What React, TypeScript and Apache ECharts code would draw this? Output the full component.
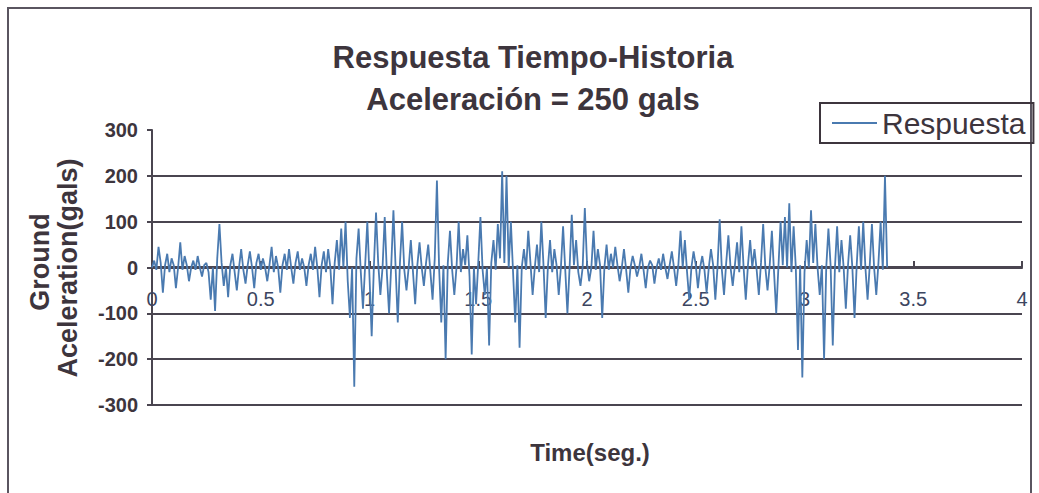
import React, { useEffect, useRef } from "react";
import * as echarts from "echarts";

const titleLines = ["Respuesta Tiempo-Historia", "Aceleración = 250 gals"];
const seriesName = "Respuesta";
const yTitleLines = ["Ground", "Aceleration(gals)"];
const xTitle = "Time(seg.)";
const timeStep = 0.01; // s between samples

// Ground acceleration response (gals), one row per 0.1 s
const respuesta: number[] = [
  0, 15, -5, 45, 10, -55, 5, 30, -10, 20,
  5, -45, 0, 55, -5, 25, 5, -30, 0, 15,
  -5, 25, 0, -20, 5, 10, -10, -70, 0, -95,
  20, 95, 10, -40, 0, -65, 5, 30, -10, -50,
  0, 40, -5, -35, 5, 35, 0, -45, 10, 30,
  -5, 20, 0, -30, 5, 45, -10, 25, 0, -55,
  5, 30, -5, 40, 0, -35, 10, 35, -5, 20,
  0, -40, 5, 30, -5, 45, 0, -65, 5, 35,
  -10, 40, 0, -80, 10, 60, -5, 85, 0, 100,
  -30, -110, 0, -260, 20, 85, -10, -90, 5, 100,
  -20, -150, 0, 120, 10, -60, 0, 110, -15, -100,
  5, 125, 0, -120, 10, 100, -5, -50, 0, 60,
  -10, -80, 5, 55, 0, -40, 10, 50, -10, -70,
  20, 190, 0, -120, 5, -200, 10, 80, -5, -60,
  0, 100, -10, 40, 5, 70, -20, -190, 0, -80,
  10, 110, -5, -60, 0, -170, 10, 60, -5, 95,
  20, 210, 10, 200, 0, 100, -10, -120, 5, -175,
  0, 40, -5, 80, 10, -60, 0, 50, -10, 100,
  5, -110, 0, 60, -10, 40, 5, -60, 0, 90,
  -5, -100, 0, 115, 5, 60, -10, -40, 0, 130,
  10, -30, 0, 80, -5, 40, 5, -110, 0, 50,
  -5, 30, 0, 45, 5, -30, 0, 40, -5, -55,
  0, 25, 5, -20, 0, 30, -5, -45, 0, 15,
  5, -35, 0, 20, -5, 30, 0, -25, 5, 35,
  0, -40, 5, 80, 0, 60, -10, -70, 0, 35,
  5, -45, 0, 25, -5, -55, 0, 40, 5, -70,
  0, 105, -5, -60, 10, 70, 0, -40, 5, 55,
  -10, 90, 0, -70, 5, 60, 0, 40, -5, -60,
  10, 95, 0, -50, 5, 80, -10, -100, 0, 100,
  5, 110, 0, 140, -10, 90, 0, -180, 5, -240,
  -10, 60, 0, 125, 10, 95, 0, -60, 5, -200,
  0, 85, 5, -170, 0, 90, -10, 60, 0, -90,
  5, 70, 0, -110, 5, 90, -5, 100, 0, -70,
  5, 95, 0, -60, 10, 100, -5, 200, 0,
];

const FONT = "'Liberation Sans', Arial, sans-serif";
const TEXT = "#3d353d";
const GRID = "#4a4550";
const LINE = "#4a7ab0";

export default function App() {
  const ref = useRef<HTMLDivElement>(null);
  useEffect(() => {
    if (!ref.current) return;
    const chart = echarts.init(ref.current, undefined, { renderer: "svg" });
    const data = respuesta.map((v, i) => [+(i * timeStep).toFixed(2), v]);
    chart.setOption({
      animation: false,
      backgroundColor: "#ffffff",
      title: {
        text: titleLines.join("\n"),
        left: 528,
        top: 31,
        textAlign: "center",
        textStyle: {
          fontFamily: FONT,
          fontSize: 31,
          fontWeight: "bold",
          lineHeight: 42,
          color: TEXT,
        },
      },
      legend: {
        left: 820,
        top: 103,
        borderColor: TEXT,
        borderWidth: 2,
        padding: [5, 8, 5, 12],
        itemWidth: 45,
        itemHeight: 2,
        itemGap: 8,
        icon: "rect",
        textStyle: { fontFamily: FONT, fontSize: 30, color: TEXT },
        data: [seriesName],
      },
      grid: [
        { left: 152, right: 17, top: 130, bottom: 88 },
        { left: 152, right: 17, top: 130, bottom: 226 },
      ],
      xAxis: [
        {
          type: "value",
          gridIndex: 0,
          min: 0,
          max: 4,
          interval: 0.5,
          axisLine: { onZero: true, lineStyle: { color: GRID, width: 2 } },
          axisTick: { show: false },
          axisLabel: { show: false },
          splitLine: { show: false },
        },
        {
          type: "value",
          gridIndex: 1,
          min: 0,
          max: 4,
          interval: 0.5,
          axisLine: { show: true, onZero: false, lineStyle: { color: GRID, width: 2 } },
          axisTick: { show: true, inside: true, length: 6, lineStyle: { color: GRID, width: 2 } },
          axisLabel: {
            fontFamily: FONT,
            fontSize: 20,
            color: "#3c4560",
            margin: 22,
          },
          splitLine: { show: false },
        },
      ],
      yAxis: [
        {
          type: "value",
          gridIndex: 0,
          min: -300,
          max: 300,
          interval: 100,
          axisLine: { show: true, lineStyle: { color: GRID, width: 2 } },
          axisTick: { show: true, length: 5, lineStyle: { color: GRID, width: 2 } },
          axisLabel: {
            fontFamily: FONT,
            fontSize: 20,
            fontWeight: "bold",
            color: TEXT,
            margin: 14,
          },
          splitLine: {
            show: true,
            lineStyle: {
              color: [GRID, GRID, GRID, GRID, GRID, GRID, "rgba(0,0,0,0)"],
              width: 2,
            },
          },
        },
        {
          type: "value",
          gridIndex: 1,
          min: 0,
          max: 300,
          show: false,
        },
      ],
      graphic: [
        {
          type: "rect",
          shape: { x: 8, y: 8, width: 1023, height: 520 },
          style: { fill: "none", stroke: "#5a5560", lineWidth: 2 },
          silent: true,
        },
        {
          type: "text",
          x: 40,
          y: 262,
          rotation: Math.PI / 2,
          style: {
            text: yTitleLines[0],
            font: `bold 27px ${FONT}`,
            fill: TEXT,
            textAlign: "center",
            textVerticalAlign: "middle",
            align: "center",
            verticalAlign: "middle",
          },
        },
        {
          type: "text",
          x: 68,
          y: 268,
          rotation: Math.PI / 2,
          style: {
            text: yTitleLines[1],
            font: `bold 27px ${FONT}`,
            fill: TEXT,
            textAlign: "center",
            textVerticalAlign: "middle",
            align: "center",
            verticalAlign: "middle",
          },
        },
        {
          type: "text",
          x: 590,
          y: 452,
          style: {
            text: xTitle,
            font: `bold 24px ${FONT}`,
            fill: TEXT,
            textAlign: "center",
            textVerticalAlign: "middle",
            align: "center",
            verticalAlign: "middle",
          },
        },
      ],
      series: [
        {
          name: seriesName,
          type: "line",
          xAxisIndex: 0,
          yAxisIndex: 0,
          data,
          symbol: "none",
          lineStyle: { color: LINE, width: 1.8 },
          itemStyle: { color: LINE },
          z: 3,
        },
      ],
    });
    return () => chart.dispose();
  }, []);
  return (
    <div
      ref={ref}
      style={{ position: "fixed", left: 0, top: 0, width: 1039, height: 493 }}
    />
  );
}
